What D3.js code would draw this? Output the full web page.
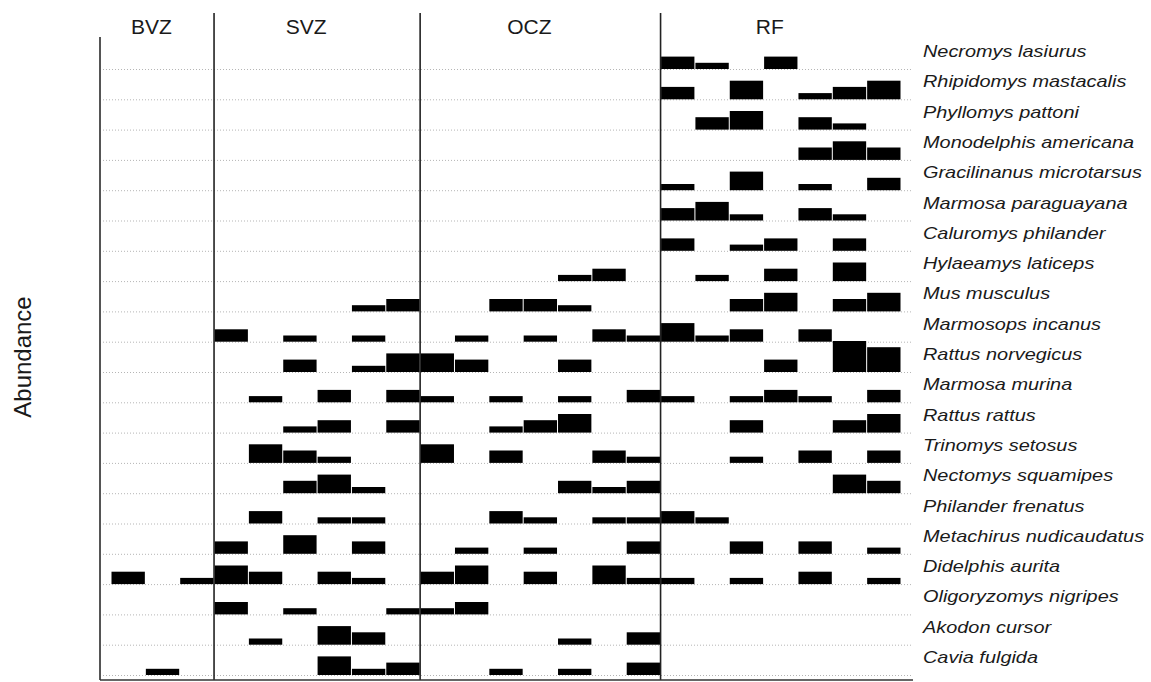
<!DOCTYPE html>
<html lang="en">
<head>
    <meta charset="UTF-8">
    <title>Small mammal abundance by zone</title>
    <script src="https://d3js.org/d3.v7.min.js"></script>
    <style>
        body {margin: 0; background: white;}
        text {font-family: "Liberation Sans", Arial, Helvetica, sans-serif; fill: #1a1a1a;}
    </style>
</head>
<body>
<svg id="main" width="1151" height="682"></svg>
<script>
    // species, top to bottom
    let species = ["Necromys lasiurus", "Rhipidomys mastacalis", "Phyllomys pattoni", "Monodelphis americana",
        "Gracilinanus microtarsus", "Marmosa paraguayana", "Caluromys philander", "Hylaeamys laticeps",
        "Mus musculus", "Marmosops incanus", "Rattus norvegicus", "Marmosa murina", "Rattus rattus",
        "Trinomys setosus", "Nectomys squamipes", "Philander frenatus", "Metachirus nudicaudatus",
        "Didelphis aurita", "Oligoryzomys nigripes", "Akodon cursor", "Cavia fulgida"];
    let zones = ["BVZ", "SVZ", "OCZ", "RF"];

    // abundance per site, one row per species (same order as species)
    let bvz = [
        [0,0,0],[0,0,0],[0,0,0],[0,0,0],[0,0,0],[0,0,0],[0,0,0],[0,0,0],[0,0,0],[0,0,0],[0,0,0],
        [0,0,0],[0,0,0],[0,0,0],[0,0,0],[0,0,0],[0,0,0],[2,0,1],[0,0,0],[0,0,0],[0,1,0]
    ];
    let svz = [
        [0,0,0,0,0,0],[0,0,0,0,0,0],[0,0,0,0,0,0],[0,0,0,0,0,0],[0,0,0,0,0,0],[0,0,0,0,0,0],
        [0,0,0,0,0,0],[0,0,0,0,0,0],
        [0,0,0,0,1,2],   // Mus
        [2,0,1,0,1,0],   // Marmosops
        [0,0,2,0,1,3],   // R. norvegicus
        [0,1,0,2,0,2],   // M. murina
        [0,0,1,2,0,2],   // R. rattus
        [0,3,2,1,0,0],   // Trinomys
        [0,0,2,3,1,0],   // Nectomys
        [0,2,0,1,1,0],   // Philander
        [2,0,3,0,2,0],   // Metachirus
        [3,2,0,2,1,0],   // Didelphis
        [2,0,1,0,0,1],   // Oligoryzomys
        [0,1,0,3,2,0],   // Akodon
        [0,0,0,3,1,2]    // Cavia
    ];
    let ocz = [
        [0,0,0,0,0,0,0],[0,0,0,0,0,0,0],[0,0,0,0,0,0,0],[0,0,0,0,0,0,0],[0,0,0,0,0,0,0],
        [0,0,0,0,0,0,0],[0,0,0,0,0,0,0],
        [0,0,0,0,1,2,0],  // Hylaeamys
        [0,0,2,2,1,0,0],  // Mus
        [0,1,0,1,0,2,1],  // Marmosops
        [3,2,0,0,2,0,0],  // R. norvegicus
        [1,0,1,0,1,0,2],  // M. murina
        [0,0,1,2,3,0,0],  // R. rattus
        [3,0,2,0,0,2,1],  // Trinomys
        [0,0,0,0,2,1,2],  // Nectomys
        [0,0,2,1,0,1,1],  // Philander
        [0,1,0,1,0,0,2],  // Metachirus
        [2,3,0,2,0,3,1],  // Didelphis
        [1,2,0,0,0,0,0],  // Oligoryzomys
        [0,0,0,0,1,0,2],  // Akodon
        [0,0,1,0,1,0,2]   // Cavia
    ];
    let rf = [
        [2,1,0,2,0,0,0],  // Necromys
        [2,0,3,0,1,2,3],  // Rhipidomys
        [0,2,3,0,2,1,0],  // Phyllomys
        [0,0,0,0,2,3,2],  // Monodelphis
        [1,0,3,0,1,0,2],  // Gracilinanus
        [2,3,1,0,2,1,0],  // M. paraguayana
        [2,0,1,2,0,2,0],  // Caluromys
        [0,1,0,2,0,3,0],  // Hylaeamys
        [0,0,2,3,0,2,3],  // Mus
        [3,1,2,0,2,0,0],  // Marmosops
        [0,0,0,2,0,5,4],  // R. norvegicus
        [1,0,1,2,1,0,2],  // M. murina
        [0,0,2,0,0,2,3],  // R. rattus
        [0,0,1,0,2,0,2],  // Trinomys
        [0,0,0,0,0,3,2],  // Nectomys
        [2,1,0,0,0,0,0],  // Philander
        [0,0,2,0,2,0,1],  // Metachirus
        [1,0,1,0,2,0,1],  // Didelphis
        [0,0,0,0,0,0,0],[0,0,0,0,0,0,0],[0,0,0,0,0,0,0]
    ];
    let zoneData = [bvz, svz, ocz, rf];

    let svg = d3.select('svg#main');

    // build the list of sites (zone + number) and the flat list of cells
    let sites = [];
    let cells = [];
    zones.forEach(function (z, zi){
        let m = zoneData[zi];
        for (let s = 0; s < m[0].length; s++){
            let site = z + (s + 1);
            sites.push(site);
            species.forEach(function (sp, i){
                cells.push({zone: z, site: site, species: sp, n: m[i][s]});
            });
        }
    });

    //scales
    let x = d3.scaleBand().domain(sites).range([111, 901]).padding(0);
    let y = d3.scalePoint().domain(species).range([69, 675]);
    let h = d3.scaleLinear().domain([0, 5]).range([0, 31]);

    let plotLeft = 100, plotRight = 913, plotBottom = 680;

    // dotted baselines
    svg.append('g').selectAll('line')
        .data(species)
        .enter()
        .append('line')
        .attr('x1', plotLeft)
        .attr('x2', plotRight)
        .attr('y1', function (d){return y(d) + 0.5})
        .attr('y2', function (d){return y(d) + 0.5})
        .style('stroke', '#b5b5b5')
        .style('stroke-width', '1px')
        .style('stroke-dasharray', '1,2');

    // bars grow up from each baseline
    svg.append('g').selectAll('rect')
        .data(cells.filter(function (d){return d.n > 0}))
        .enter()
        .append('rect')
        .attr('x', function (d){return x(d.site) + 0.5})
        .attr('width', x.bandwidth() - 1)
        .attr('y', function (d){return y(d.species) - h(d.n)})
        .attr('height', function (d){return h(d.n)})
        .style('fill', '#000');

    // zone boundaries
    let zoneEdges = zones.map(function (z){
        let zs = sites.filter(function (s){return s.indexOf(z) === 0 && s.slice(z.length).match(/^\d+$/)});
        return {zone: z, x0: x(zs[0]), x1: x(zs[zs.length - 1]) + x.bandwidth()};
    });
    svg.append('g').selectAll('line')
        .data(zoneEdges.slice(1))
        .enter()
        .append('line')
        .attr('x1', function (d){return d.x0})
        .attr('x2', function (d){return d.x0})
        .attr('y1', 13)
        .attr('y2', plotBottom)
        .style('stroke', '#222')
        .style('stroke-width', '1.6px');

    // left and bottom axis lines
    svg.append('line')
        .attr('x1', plotLeft).attr('x2', plotLeft)
        .attr('y1', 37).attr('y2', plotBottom)
        .style('stroke', '#555').style('stroke-width', '2px');
    svg.append('line')
        .attr('x1', plotLeft).attr('x2', plotRight)
        .attr('y1', plotBottom).attr('y2', plotBottom)
        .style('stroke', '#333').style('stroke-width', '1.5px');

    // zone labels
    svg.append('g').selectAll('text')
        .data(zoneEdges)
        .enter()
        .append('text')
        .attr('x', function (d){return (d.x0 + d.x1) / 2 - 11})
        .attr('y', 34)
        .attr('text-anchor', 'middle')
        .style('font-size', '21px')
        .text(function (d){return d.zone});

    // species labels
    svg.append('g').selectAll('text')
        .data(species)
        .enter()
        .append('text')
        .attr('transform', function (d){return 'translate(923,' + (y(d) - 12) + ') scale(1.17,1)'})
        .style('font-size', '17px')
        .style('font-style', 'italic')
        .text(function (d){return d});

    // y title
    svg.append('text')
        .attr('transform', 'translate(31,357) rotate(-90)')
        .attr('text-anchor', 'middle')
        .style('font-size', '24px')
        .text('Abundance');
</script>
</body>
</html>
